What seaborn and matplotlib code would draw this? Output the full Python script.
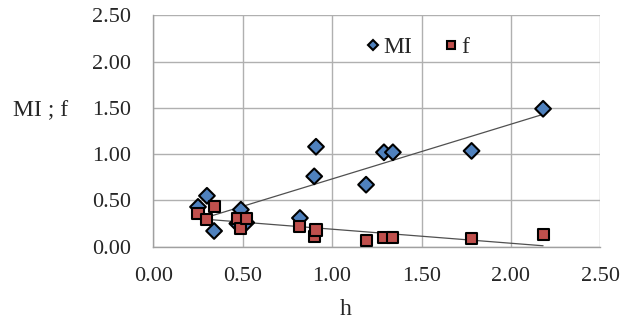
import numpy as np
import pandas as pd
import matplotlib.pyplot as plt
import seaborn as sns

# -----------------------------------
# DATA
# -----------------------------------

h = [0.25, 0.30, 0.34, 0.47, 0.49, 0.52, 0.82, 0.90, 0.91, 1.19, 1.29, 1.34, 1.78, 2.18]
mi = [0.43, 0.55, 0.17, 0.25, 0.40, 0.26, 0.31, 0.76, 1.08, 0.67, 1.02, 1.02, 1.035, 1.49]
f = [0.36, 0.29, 0.43, 0.30, 0.20, 0.30, 0.22, 0.11, 0.18, 0.065, 0.095, 0.095, 0.087, 0.134]

# trend lines (end points)
mi_trend_h = [0.32, 2.18]
mi_trend = [0.33, 1.43]
f_trend_h = [0.27, 2.18]
f_trend = [0.30, 0.01]

ticks = [0.0, 0.5, 1.0, 1.5, 2.0, 2.5]

df = pd.DataFrame({
    "h": h + h,
    "value": mi + f,
    "series": ["MI"] * len(h) + ["f"] * len(h),
})

# -----------------------------------
# PLOT
# -----------------------------------

sns.set_style("white")
plt.rcParams["font.family"] = ["Liberation Serif", "DejaVu Serif"]

fig = plt.figure(figsize=(6.22, 3.2), dpi=100)
ax = fig.add_axes([153.3 / 622, 1 - 246.7 / 320, 447 / 622, 231.4 / 320])

ax.plot(mi_trend_h, mi_trend, color="#505050", lw=0.9, zorder=2)
ax.plot(f_trend_h, f_trend, color="#505050", lw=0.9, zorder=2)

sns.scatterplot(
    data=df, x="h", y="value", hue="series", style="series",
    palette={"MI": "#4F81BD", "f": "#C0504D"},
    markers={"MI": "D", "f": "s"},
    s=64, edgecolor="black", linewidth=1.5, zorder=3, ax=ax,
)

ax.set_xlim(0, 2.5)
ax.set_ylim(0, 2.5)
ax.set_xticks(ticks)
ax.set_yticks(ticks)
ax.set_xticklabels([f"{t:.2f}" for t in ticks], fontsize=16)
ax.set_yticklabels([f"{t:.2f}" for t in ticks], fontsize=16)
ax.grid(True, color="#b0b0b0", lw=1)
ax.set_axisbelow(True)
for side in ["right", "top"]:
    ax.spines[side].set_visible(False)
for side in ["left", "bottom"]:
    ax.spines[side].set_color("#a0a0a0")
    ax.spines[side].set_linewidth(1)
ax.tick_params(axis="x", length=4.5, width=1, color="#a0a0a0", pad=10)
ax.tick_params(axis="y", length=6, width=1, color="#a0a0a0", pad=10)

ax.set_xlabel("h", fontsize=17)
ax.xaxis.set_label_coords(0.43, -0.225)
ax.set_ylabel("MI ; f", fontsize=17, rotation=0, ha="center", va="center")
ax.yaxis.set_label_coords(-0.253, 0.59)

ax.legend(
    loc="center left", bbox_to_anchor=(0.472, 0.863), ncol=2, frameon=False,
    fontsize=17, handlelength=0.7, handletextpad=0.1, columnspacing=1.3,
    borderpad=0, borderaxespad=0, markerscale=0.7,
)

plt.savefig("out.png", dpi=100)
